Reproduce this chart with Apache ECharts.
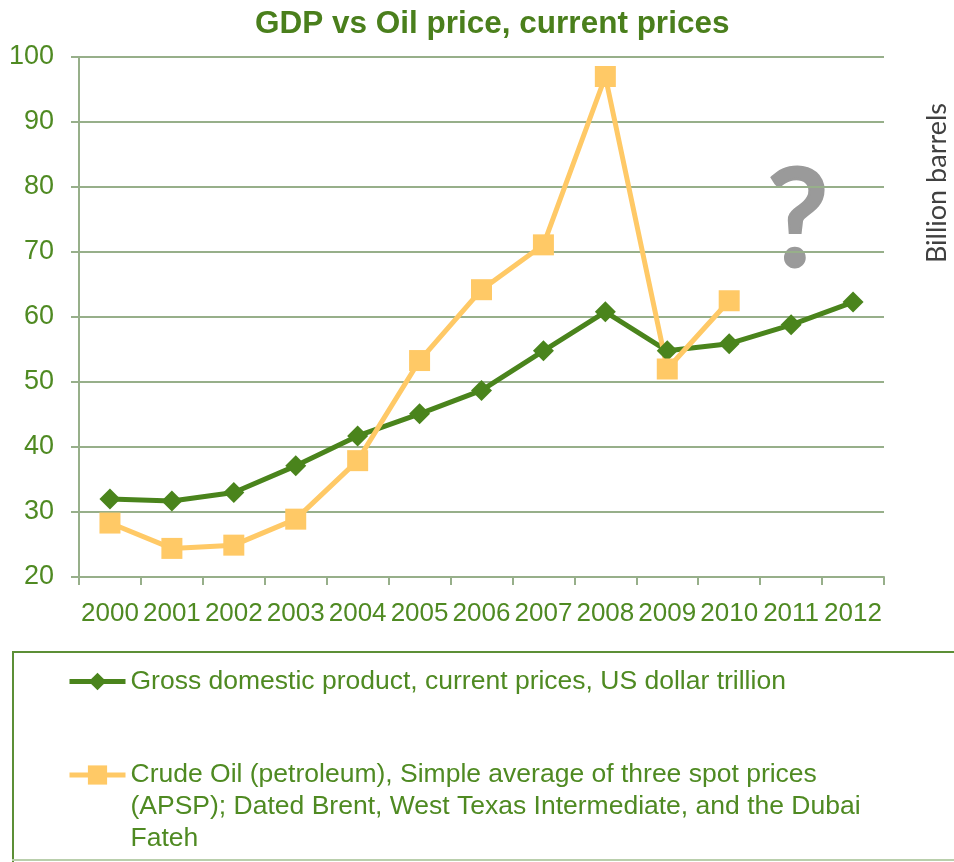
<!DOCTYPE html>
<html>
<head>
<meta charset="utf-8">
<script src="https://cdn.jsdelivr.net/npm/echarts@6/dist/echarts.min.js"></script>
<style>
  html, body { margin: 0; padding: 0; background: #fff; }
  #chart { width: 954px; height: 862px; }
</style>
</head>
<body>
<div id="chart"></div>
<script>
// values
const years = ['2000', '2001', '2002', '2003', '2004', '2005', '2006', '2007', '2008', '2009', '2010', '2011', '2012']
const gdp = [32.0, 31.7, 33.0, 37.1, 41.7, 45.1, 48.7, 54.8, 60.8, 54.8, 55.9, 58.8, 62.3]
const oil = [28.3, 24.4, 24.9, 28.9, 37.9, 53.3, 64.2, 71.1, 97.0, 52.0, 62.5, null, null]
const gdpName = 'Gross domestic product, current prices, US dollar trillion'
const oilName = 'Crude Oil (petroleum), Simple average of three spot prices'

const GREEN = '#4A841C'
const OIL = '#FFC966'
const TXT = '#4F8A22'
const GRIDC = '#97AF8A'
const FONT = '"Liberation Sans", Arial, sans-serif'

const chart = echarts.init(document.getElementById('chart'))
chart.setOption({
  animation: false,
  title: {
    text: 'GDP vs Oil price, current prices',
    left: 250,
    top: 3,
    textStyle: { color: '#4A7F1C', fontSize: 31.5, fontWeight: 'bold', fontFamily: FONT }
  },
  grid: { left: 79, right: 70, top: 57, bottom: 285 },
  legend: [
    {
      orient: 'vertical',
      left: 62,
      top: 661,
      itemWidth: 56,
      itemHeight: 22,
      itemGap: 0,
      lineStyle: { width: 5 },
      data: [gdpName],
      textStyle: { color: TXT, fontSize: 26.5, fontFamily: FONT, lineHeight: 31 }
    },
    {
      orient: 'vertical',
      left: 62,
      top: 690,
      itemWidth: 56,
      itemHeight: 24,
      itemGap: 0,
      lineStyle: { width: 5 },
      data: [oilName],
      formatter: function (n) {
        return '\n\n' + n + '\n(APSP); Dated Brent, West Texas Intermediate, and the Dubai\nFateh'
      },
      textStyle: { color: TXT, fontSize: 26.5, fontFamily: FONT, lineHeight: 32 }
    }
  ],
  xAxis: {
    type: 'category',
    data: years,
    boundaryGap: true,
    axisLine: { show: true, lineStyle: { color: GRIDC, width: 2 } },
    axisTick: { show: true, length: 8, alignWithLabel: false, interval: 0, lineStyle: { color: GRIDC, width: 2 } },
    axisLabel: { interval: 0, color: TXT, fontSize: 26, fontFamily: FONT, margin: 24 }
  },
  yAxis: {
    type: 'value',
    min: 20,
    max: 100,
    interval: 10,
    axisLine: { show: true, lineStyle: { color: GRIDC, width: 2 } },
    axisTick: { show: true, length: 8, lineStyle: { color: GRIDC, width: 2 } },
    axisLabel: { color: TXT, fontSize: 27, fontFamily: FONT, margin: 25 },
    splitLine: { show: true, lineStyle: { color: GRIDC, width: 2 } }
  },
  series: [
    {
      name: gdpName,
      type: 'line',
      data: gdp,
      symbol: 'diamond',
      symbolSize: 21,
      lineStyle: { color: GREEN, width: 5 },
      itemStyle: { color: GREEN }
    },
    {
      name: oilName,
      type: 'line',
      data: oil,
      symbol: 'rect',
      symbolSize: 21,
      lineStyle: { color: OIL, width: 5 },
      itemStyle: { color: OIL }
    }
  ],
  graphic: [
    {
      type: 'text',
      x: 798,
      y: 222,
      z: -10,
      style: {
        text: '?',
        fill: '#9A9A9A',
        stroke: '#9A9A9A',
        lineWidth: 5,
        font: '134px Lato, sans-serif',
        textAlign: 'center',
        textVerticalAlign: 'middle'
      }
    },
    {
      type: 'text',
      x: 937,
      y: 183,
      rotation: Math.PI / 2,
      style: {
        text: 'Billion barrels',
        fill: '#404040',
        font: '27px Lato, "Open Sans", sans-serif',
        textAlign: 'center',
        textVerticalAlign: 'middle'
      }
    },
    // legend frame
    { type: 'line', shape: { x1: 12, y1: 652, x2: 960, y2: 652 }, style: { stroke: '#5C8F36', lineWidth: 2 } },
    { type: 'line', shape: { x1: 13, y1: 652, x2: 13, y2: 862 }, style: { stroke: '#5C8F36', lineWidth: 2 } },
    { type: 'line', shape: { x1: 12, y1: 860, x2: 960, y2: 860 }, style: { stroke: '#B9CFAC', lineWidth: 2 } }
  ]
})
</script>
</body>
</html>
